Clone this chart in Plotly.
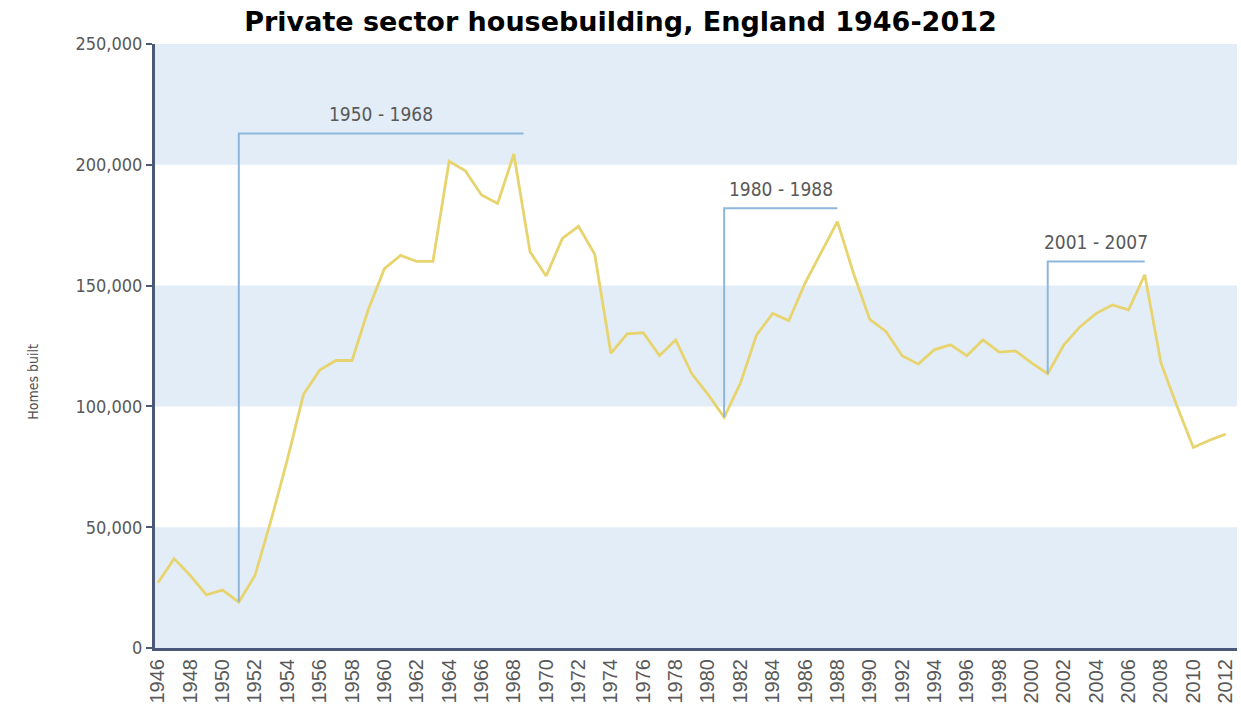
import plotly.graph_objects as go

# Private sector completions, England
years = list(range(1946, 2013))
homes_built = [
    27000, 37000, 30000, 22000, 24000, 19000, 30000, 53000, 78000, 105000,   # 1946-1955
    115000, 119000, 119000, 140000, 157000, 162500, 160000, 160000, 201500, 197500,  # 1956-1965
    187500, 184000, 204500, 164000, 154000, 169500, 174500, 163000, 122000, 130000,  # 1966-1975
    130500, 121000, 127500, 113500, 105000, 95500, 109500, 129500, 138500, 135500,   # 1976-1985
    151000, 163500, 176500, 155000, 136000, 131000, 121000, 117500, 123500, 125500,  # 1986-1995
    121000, 127500, 122500, 123000, 118000, 113500, 125500, 133000, 138500, 142000,  # 1996-2005
    140000, 154500, 118000, 100000, 83000, 86000, 88500,                             # 2006-2012
]

# Highlighted booms: label, start year, end year, bracket height
boom_labels = ["1950 - 1968", "1980 - 1988", "2001 - 2007"]
boom_start = [1951, 1981, 2001]
boom_end = [1968.6, 1988, 2007]
boom_top = [213000, 182000, 160000]

y_ticks = [0, 50000, 100000, 150000, 200000, 250000]
x_ticks = list(range(1946, 2013, 2))

NARROW = "Liberation Sans Narrow, Arial Narrow, DejaVu Sans Condensed, sans-serif"
AXIS_COLOR = "#4b5878"
LABEL_GREY = "#595959"
BAND_BLUE = "#e3edf8"
BRACKET_BLUE = "#8db7da"
LINE_YELLOW = "#e8d46e"

fig = go.Figure()

fig.add_trace(go.Scatter(
    x=years, y=homes_built, mode="lines",
    line=dict(color=LINE_YELLOW, width=2.8),
    hoverinfo="x+y", showlegend=False,
))

# alternating horizontal bands
shapes = []
for lo, hi in zip(y_ticks[:-1], y_ticks[1:]):
    if (lo // 50000) % 2 == 0:
        shapes.append(dict(type="rect", xref="paper", x0=0, x1=1, yref="y", y0=lo, y1=hi,
                           fillcolor=BAND_BLUE, line=dict(width=0), layer="below"))

annotations = []
for label, x0, x1, top in zip(boom_labels, boom_start, boom_end, boom_top):
    start_val = homes_built[years.index(x0)]
    shapes.append(dict(type="path", xref="x", yref="y",
                       path=f"M {x0},{start_val} L {x0},{top} L {x1},{top}",
                       line=dict(color=BRACKET_BLUE, width=2), layer="above"))
    annotations.append(dict(x=(x0 + x1) / 2, y=top, xref="x", yref="y", text=label,
                            showarrow=False, yanchor="middle", yshift=19,
                            font=dict(family=NARROW, size=19, color=LABEL_GREY)))

annotations.append(dict(x=(33 - 155) / 1082, y=(654 - 385) / 610, xref="paper", yref="paper",
                        text="Homes built", textangle=-90, showarrow=False,
                        xanchor="center", yanchor="middle",
                        font=dict(family=NARROW, size=14, color="#4f4f4f")))

fig.update_layout(
    width=1241, height=708,
    margin=dict(l=155, r=4, t=44, b=54),
    paper_bgcolor="white", plot_bgcolor="white",
    title=dict(text="<b>Private sector housebuilding, England 1946-2012</b>",
               x=0.5, xref="container", xanchor="center",
               y=1 - 21.5 / 708, yref="container", yanchor="middle",
               font=dict(family="DejaVu Sans, Verdana, sans-serif", size=27, color="black")),
    shapes=shapes,
    annotations=annotations,
    xaxis=dict(range=[1945.82, 2012.7], tickmode="array", tickvals=x_ticks,
               ticktext=[str(v) for v in x_ticks], tickangle=-90,
               showgrid=False, zeroline=False, showline=True, linecolor=AXIS_COLOR, linewidth=3,
               ticks="", tickfont=dict(family="Liberation Sans, Arial, sans-serif", size=20, color=LABEL_GREY)),
    yaxis=dict(range=[0, 250000], tickmode="array", tickvals=y_ticks,
               ticktext=[f"{v:,}" for v in y_ticks],
               showgrid=False, zeroline=False, showline=True, linecolor=AXIS_COLOR, linewidth=3,
               ticks="outside", ticklen=6, tickwidth=2, tickcolor=AXIS_COLOR,
               tickfont=dict(family=NARROW, size=18, color=LABEL_GREY)),
)

fig.write_html("out.html")
